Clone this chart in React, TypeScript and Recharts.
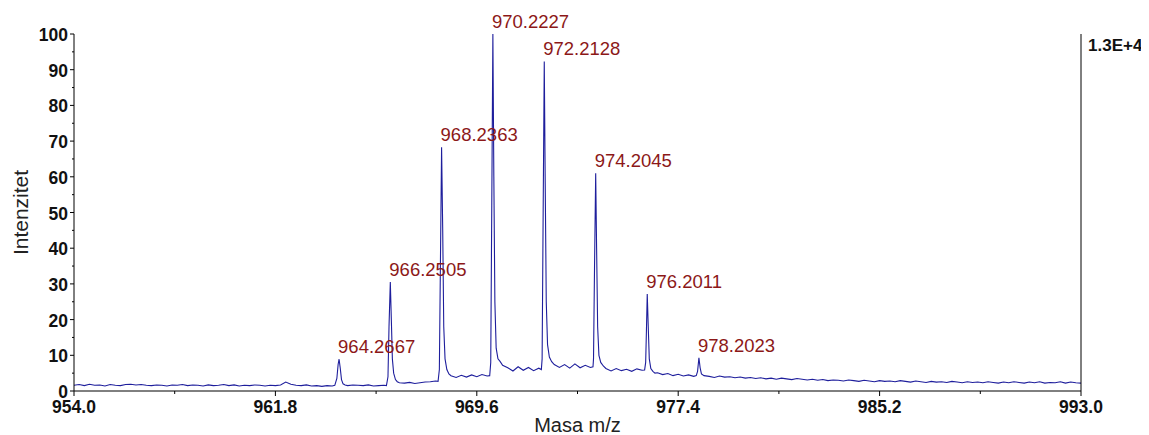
import React from 'react'
import { ComposedChart, Line, Scatter, XAxis, YAxis } from 'recharts'

// spectrum, [m/z, relative intensity]
const baselineLow: [number, number][] = [
  [954.0, 1.6], [954.2, 1.8], [954.4, 1.5], [954.6, 1.9], [954.8, 1.6], [955.0, 1.7], [955.2, 1.4],
  [955.4, 1.8], [955.6, 1.6], [955.8, 1.5], [956.0, 1.8], [956.2, 1.9], [956.4, 1.7], [956.6, 1.8],
  [956.8, 1.6], [957.0, 1.5], [957.2, 1.7], [957.4, 1.6], [957.6, 1.4], [957.8, 1.7], [958.0, 1.6],
  [958.2, 1.8], [958.4, 1.5], [958.6, 1.7], [958.8, 1.6], [959.0, 1.4], [959.2, 1.7], [959.4, 1.5],
  [959.6, 1.6], [959.8, 1.8], [960.0, 1.5], [960.2, 1.7], [960.4, 1.4], [960.6, 1.6], [960.8, 1.5],
  [961.0, 1.7], [961.2, 1.6], [961.4, 1.4], [961.6, 1.6], [961.8, 1.5], [962.0, 1.7], [962.2, 2.5],
  [962.4, 1.9], [962.6, 1.6], [962.8, 1.5], [963.0, 1.7], [963.2, 1.4], [963.4, 1.5], [963.6, 1.3],
  [963.8, 1.5], [964.0, 1.4],
]

const peak964: [number, number][] = [
  [964.1, 1.6], [964.18, 3.5], [964.23, 7.5], [964.2667, 8.9], [964.31, 6.5], [964.36, 3.2],
  [964.42, 2.0], [964.5, 1.7],
  [964.6, 1.5], [964.8, 1.7], [965.0, 1.6], [965.2, 1.5], [965.4, 1.7], [965.6, 1.4], [965.8, 1.5],
  [966.0, 1.6], [966.1, 1.5],
]

const peak966: [number, number][] = [
  [966.16, 4], [966.2, 18], [966.2505, 30.5], [966.29, 20], [966.33, 9], [966.38, 5.0], [966.45, 3.2],
  [966.52, 2.6], [966.6, 2.3],
  [966.8, 2.2], [967.0, 2.4], [967.2, 2.1], [967.4, 2.3], [967.6, 2.5], [967.8, 2.6], [968.0, 2.8],
  [968.1, 2.7],
]

const peak968: [number, number][] = [
  [968.15, 6], [968.19, 35], [968.2363, 68.3], [968.28, 45], [968.32, 18], [968.37, 9], [968.44, 6],
  [968.52, 4.8], [968.6, 4.3],
  [968.8, 3.8], [969.0, 4.4], [969.2, 3.9], [969.4, 4.5], [969.6, 4.0], [969.8, 4.6], [970.0, 4.2],
  [970.1, 4.3],
]

const peak970: [number, number][] = [
  [970.14, 8], [970.18, 52], [970.2227, 100], [970.26, 60], [970.3, 25], [970.35, 12], [970.42, 9],
  [970.5, 8.3], [970.6, 7.2],
  [970.8, 6.5], [971.0, 5.6], [971.2, 6.8], [971.4, 5.8], [971.6, 6.6], [971.8, 5.7], [972.0, 6.4],
  [972.1, 6.0],
]

const peak972: [number, number][] = [
  [972.13, 9], [972.17, 50], [972.2128, 92.3], [972.25, 58], [972.29, 25], [972.34, 13], [972.41, 9.5],
  [972.5, 8.2], [972.6, 7.4],
  [972.8, 6.6], [973.0, 7.4], [973.2, 6.4], [973.4, 7.6], [973.6, 6.5], [973.8, 7.2], [974.0, 6.6],
  [974.1, 6.8],
]

const peak974: [number, number][] = [
  [974.12, 9], [974.16, 35], [974.2045, 61], [974.24, 40], [974.28, 18], [974.33, 10], [974.4, 8],
  [974.5, 7], [974.6, 6.3],
  [974.8, 5.6], [975.0, 6.3], [975.2, 5.7], [975.4, 6.1], [975.6, 5.5], [975.8, 6.2], [976.0, 5.8],
  [976.1, 5.9],
]

const peak976: [number, number][] = [
  [976.14, 8], [976.17, 17], [976.2011, 27.2], [976.24, 18], [976.28, 9], [976.34, 6.3], [976.42, 5.5],
  [976.5, 5.0],
  [976.6, 5.1], [976.8, 4.6], [977.0, 4.9], [977.2, 4.3], [977.4, 4.7], [977.6, 4.2], [977.8, 4.5],
  [978.0, 4.1], [978.1, 4.3],
]

const peak978: [number, number][] = [
  [978.15, 5.5], [978.2023, 9.3], [978.25, 6.5], [978.3, 4.8], [978.4, 4.3],
]

const baselineHigh: [number, number][] = [
  [978.6, 4.1], [978.8, 3.8], [979.0, 4.2], [979.2, 3.9], [979.4, 4.0], [979.6, 3.7], [979.8, 3.9],
  [980.0, 3.6], [980.2, 3.8], [980.4, 3.5], [980.6, 3.7], [980.8, 3.4], [981.0, 3.6], [981.2, 3.3],
  [981.4, 3.6], [981.6, 3.4], [981.8, 3.2], [982.0, 3.5], [982.2, 3.3], [982.4, 3.1], [982.6, 3.3],
  [982.8, 3.0], [983.0, 3.2], [983.2, 2.9], [983.4, 3.1], [983.6, 3.0], [983.8, 2.8], [984.0, 3.1],
  [984.2, 2.9], [984.4, 2.7], [984.6, 3.0], [984.8, 2.8], [985.0, 2.6], [985.2, 2.9], [985.4, 2.7],
  [985.6, 2.8], [985.8, 2.6], [986.0, 2.9], [986.2, 2.7], [986.4, 2.5], [986.6, 2.8], [986.8, 2.6],
  [987.0, 2.4], [987.2, 2.7], [987.4, 2.5], [987.6, 2.6], [987.8, 2.4], [988.0, 2.7], [988.2, 2.5],
  [988.4, 2.3], [988.6, 2.6], [988.8, 2.4], [989.0, 2.5], [989.2, 2.3], [989.4, 2.6], [989.6, 2.4],
  [989.8, 2.2], [990.0, 2.5], [990.2, 2.3], [990.4, 2.6], [990.6, 2.4], [990.8, 2.2], [991.0, 2.5],
  [991.2, 2.3], [991.4, 2.6], [991.6, 2.2], [991.8, 2.4], [992.0, 2.3], [992.2, 2.6], [992.4, 2.2],
  [992.6, 2.5], [992.8, 2.3], [993.0, 2.2],
]

const peakMz = [964.2667, 966.2505, 968.2363, 970.2227, 972.2128, 974.2045, 976.2011, 978.2023]
const peakIntensity = [8.9, 30.5, 68.3, 100, 92.3, 61, 27.2, 9.3]
const peakLabels = ['964.2667', '966.2505', '968.2363', '970.2227', '972.2128', '974.2045', '976.2011', '978.2023']

const xTicks = [954, 957.9, 961.8, 965.7, 969.6, 973.5, 977.4, 981.3, 985.2, 989.1, 993]
const xMajorTicks = [954, 961.8, 969.6, 977.4, 985.2, 993]
const yTicks = [0, 5, 10, 15, 20, 25, 30, 35, 40, 45, 50, 55, 60, 65, 70, 75, 80, 85, 90, 95, 100]
const scaleLabel = '1.3E+4'

const spectrum = [
  ...baselineLow, ...peak964, ...peak966, ...peak968, ...peak970,
  ...peak972, ...peak974, ...peak976, ...peak978, ...baselineHigh,
].map(([mz, intensity]) => ({ mz, intensity }))

const peaks = peakMz.map((mz, i) => ({ mz, intensity: peakIntensity[i], label: peakLabels[i] }))

const FONT = '"Liberation Sans", Arial, sans-serif'

const XTick = ({ x, y, payload }: any) => {
  const major = xMajorTicks.some((t) => Math.abs(t - payload.value) < 1e-6)
  return (
    <g>
      <line x1={x} y1={y} x2={x} y2={y + (major ? 5 : 3)} stroke="#000" />
      {major && (
        <text x={x} y={y + 22} textAnchor="middle" fontFamily={FONT} fontSize={17.5} fontWeight="bold" fill="#111">
          {payload.value.toFixed(1)}
        </text>
      )}
    </g>
  )
}

const YTick = ({ x, y, payload }: any) => {
  const major = payload.value % 10 === 0
  return (
    <g>
      <line x1={x - (major ? 4 : 2)} y1={y} x2={x} y2={y} stroke="#000" />
      {major && (
        <text x={x - 6} y={y + 7} textAnchor="end" fontFamily={FONT} fontSize={17.5} fontWeight="bold" fill="#111">
          {payload.value}
        </text>
      )}
    </g>
  )
}

const PeakLabel = ({ cx, cy, payload }: any) => (
  <text x={cx - 1} y={cy - 6} fontFamily={FONT} fontSize={18.5} fill="#8c1818">
    {payload.label}
  </text>
)

export default function App() {
  return (
    <ComposedChart
      width={1141}
      height={427}
      data={spectrum}
      margin={{ top: 26, right: 0, bottom: 0, left: 0 }}
    >
      <XAxis
        dataKey="mz"
        type="number"
        domain={[954, 993]}
        ticks={xTicks}
        interval={0}
        height={44}
        tickLine={false}
        tickSize={0}
        tickMargin={0}
        tick={<XTick />}
        axisLine={{ stroke: '#000' }}
        label={{
          content: ({ viewBox }: any) => (
            <text
              x={viewBox.x + viewBox.width / 2}
              y={viewBox.y + 41}
              textAnchor="middle"
              fontFamily={FONT}
              fontSize={20}
              fill="#222"
            >
              Masa m/z
            </text>
          ),
        }}
      />
      <YAxis
        yAxisId="left"
        type="number"
        domain={[0, 100]}
        ticks={yTicks}
        interval={0}
        width={66}
        tickLine={false}
        tickSize={0}
        tickMargin={0}
        tick={<YTick />}
        axisLine={{ stroke: '#000' }}
        label={{
          content: ({ viewBox }: any) => {
            const cx = viewBox.x + 20
            const cy = viewBox.y + viewBox.height / 2
            return (
              <text
                x={cx}
                y={cy}
                transform={`rotate(-90 ${cx} ${cy})`}
                textAnchor="middle"
                fontFamily={FONT}
                fontSize={21}
                fill="#222"
              >
                Intenzitet
              </text>
            )
          },
        }}
      />
      <YAxis
        yAxisId="right"
        orientation="right"
        type="number"
        domain={[0, 100]}
        width={68}
        tick={false}
        tickLine={false}
        axisLine={{ stroke: '#000' }}
        label={{
          content: ({ viewBox }: any) => (
            <text
              x={viewBox.x + 7}
              y={viewBox.y + 17}
              fontFamily={FONT}
              fontSize={17}
              fontWeight="bold"
              fill="#111"
            >
              {scaleLabel}
            </text>
          ),
        }}
      />
      <Line
        yAxisId="left"
        type="linear"
        dataKey="intensity"
        stroke="#1e1e9c"
        strokeWidth={1.1}
        dot={false}
        activeDot={false}
        isAnimationActive={false}
      />
      <Scatter
        yAxisId="left"
        data={peaks}
        dataKey="intensity"
        shape={<PeakLabel />}
        isAnimationActive={false}
      />
    </ComposedChart>
  )
}
